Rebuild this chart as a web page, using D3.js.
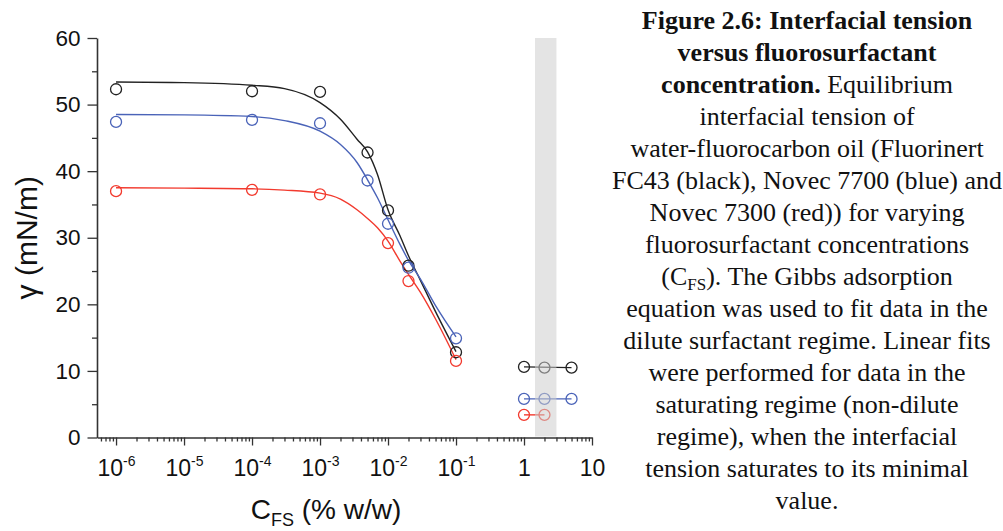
<!DOCTYPE html>
<html>
<head>
<meta charset="utf-8">
<script src="https://cdn.jsdelivr.net/npm/d3@7/dist/d3.min.js"></script>
<style>
	body { margin: 0; background: #fff; }
	svg { display: block; }
</style>
</head>
<body>
<svg id="chart"></svg>
<script>
// concentrations in % w/w
const dilute_x = [1e-6, 1e-4, 1e-3, 5e-3, 1e-2, 2e-2, 1e-1];
const red_x = [1e-6, 1e-4, 1e-3, 1e-2, 2e-2, 1e-1];
const sat_x = [1, 2, 5];
const sat_red_x = [1, 2];

// measured interfacial tension (mN/m)
const fc43 = [52.3, 52.0, 51.9, 42.8, 34.1, 25.8, 12.8];
const novec7700 = [47.4, 47.7, 47.2, 38.6, 32.1, 25.5, 14.9];
const novec7300 = [37.0, 37.2, 36.5, 29.2, 23.5, 11.5];
const fc43_sat = [10.6, 10.5, 10.5];
const novec7700_sat = [5.8, 5.8, 5.8];
const novec7300_sat = [3.4, 3.4];

// Gibbs fit curves
const fit_x = [1e-6, 1e-5, 1e-4, 3e-4, 1e-3, 2e-3, 3.5e-3, 5e-3, 7e-3, 1e-2, 1.5e-2, 2e-2, 3e-2, 5e-2, 1e-1];
const fc43_fit = [53.4, 53.3, 52.9, 52.4, 50.3, 47.8, 44.8, 42.9, 39.5, 34.2, 30.3, 27.3, 23.6, 18.9, 12.9];
const novec7700_fit = [48.5, 48.45, 48.2, 47.6, 46.0, 44.0, 41.3, 38.7, 36.0, 32.7, 29.0, 26.6, 23.8, 19.8, 15.1];
const novec7300_fit = [37.5, 37.45, 37.35, 37.15, 36.7, 35.8, 34.2, 32.9, 31.5, 29.5, 26.5, 24.5, 21.8, 17.8, 11.7];

// linear fits, saturating regime
const fc43_lin = [10.6, 10.5];
const novec7700_lin = [5.8, 5.8];
const novec7300_lin = [3.4, 3.4];

const band_x = [1.45, 3.0];

const y_ticks = [0, 10, 20, 30, 40, 50, 60];
const y_minor = [5, 15, 25, 35, 45, 55];
const x_ticks = [1e-6, 1e-5, 1e-4, 1e-3, 1e-2, 1e-1, 1, 10];
const x_labels = [["10", "-6"], ["10", "-5"], ["10", "-4"], ["10", "-3"], ["10", "-2"], ["10", "-1"], ["1", ""], ["10", ""]];

const caption = [
	[["b", "Figure 2.6: Interfacial tension"]],
	[["b", "versus fluorosurfactant"]],
	[["b", "concentration."], ["n", " Equilibrium"]],
	[["n", "interfacial tension of"]],
	[["n", "water-fluorocarbon oil (Fluorinert"]],
	[["n", "FC43 (black), Novec 7700 (blue) and"]],
	[["n", "Novec 7300 (red)) for varying"]],
	[["n", "fluorosurfactant concentrations"]],
	[["n", "(C"], ["s", "FS"], ["n", "). The Gibbs adsorption"]],
	[["n", "equation was used to fit data in the"]],
	[["n", "dilute surfactant regime. Linear fits"]],
	[["n", "were performed for data in the"]],
	[["n", "saturating regime (non-dilute"]],
	[["n", "regime), when the interfacial"]],
	[["n", "tension saturates to its minimal"]],
	[["n", "value."]]
];

const width = 1003;
const height = 531;
const plotLeft = 97, plotRight = 592, plotTop = 38, plotBottom = 437.5;

const black = "#222222";
const blue = "#4a63b8";
const red = "#f23a2e";

const svg = d3.select("#chart").attr("width", width).attr("height", height);

const x = d3.scaleLog().domain([Math.pow(10, -6.28), 10]).range([plotLeft, plotRight]);
const y = d3.scaleLinear().domain([0, 60]).range([plotBottom, plotTop]);

// minor log ticks
var x_minor = [];
for (var e = -7; e <= 0; e++) {
	for (var m = 2; m <= 9; m++) {
		var v = m * Math.pow(10, e);
		if (v >= x.domain()[0] && v <= 10) x_minor.push(v);
	}
}

function fitLine(xs, ys) {
	return d3.line()
		.x(function (d, i) { return x(xs[i]); })
		.y(function (d) { return y(d); })
		.curve(d3.curveMonotoneX)(ys);
}

function straight(xs, ys) {
	return d3.line()
		.x(function (d, i) { return x(xs[i]); })
		.y(function (d) { return y(d); })(ys);
}

const series = [
	{ color: black, px: dilute_x, py: fc43, fit: fc43_fit, sx: sat_x, sy: fc43_sat, lin: fc43_lin },
	{ color: blue, px: dilute_x, py: novec7700, fit: novec7700_fit, sx: sat_x, sy: novec7700_sat, lin: novec7700_lin },
	{ color: red, px: red_x, py: novec7300, fit: novec7300_fit, sx: sat_red_x, sy: novec7300_sat, lin: novec7300_lin }
];

// axes
var yAxis = svg.append("g")
	.attr("transform", "translate(" + plotLeft + ",0)")
	.call(d3.axisLeft(y).tickValues(y_ticks).tickSize(9.5).tickSizeOuter(0).tickPadding(7));
svg.append("g")
	.attr("transform", "translate(" + plotLeft + ",0)")
	.call(d3.axisLeft(y).tickValues(y_minor).tickSize(5).tickFormat(""))
	.select(".domain").remove();

var xAxis = svg.append("g")
	.attr("transform", "translate(0," + plotBottom + ")")
	.call(d3.axisBottom(x).tickValues(x_ticks).tickSize(8).tickSizeOuter(0).tickPadding(8).tickFormat(""));
svg.append("g")
	.attr("transform", "translate(0," + plotBottom + ")")
	.call(d3.axisBottom(x).tickValues(x_minor).tickSize(4).tickFormat(""))
	.select(".domain").remove();

svg.selectAll(".domain").attr("stroke", "#333").attr("stroke-width", 1.6);
svg.selectAll(".tick line").attr("stroke", "#333").attr("stroke-width", 1.3);

yAxis.selectAll("text")
	.attr("font-family", "Liberation Sans, Arial, sans-serif")
	.attr("font-size", 22.5)
	.attr("fill", "#111");

xAxis.selectAll(".tick").each(function (d, i) {
	var t = d3.select(this).append("text")
		.attr("y", 38)
		.attr("text-anchor", "middle")
		.attr("font-family", "Liberation Sans, Arial, sans-serif")
		.attr("font-size", 23)
		.attr("fill", "#111");
	t.append("tspan").text(x_labels[i][0]);
	if (x_labels[i][1]) {
		t.append("tspan").attr("font-size", 14).attr("dy", -10).text(x_labels[i][1]);
	}
});

// fits
series.forEach(function (s) {
	svg.append("path")
		.attr("d", fitLine(fit_x, s.fit))
		.attr("fill", "none")
		.attr("stroke", s.color)
		.attr("stroke-width", 1.4);
	svg.append("path")
		.attr("d", straight([s.sx[0], s.sx[s.sx.length - 1]], s.lin))
		.attr("fill", "none")
		.attr("stroke", s.color)
		.attr("stroke-width", 1.4);
});

// points
series.forEach(function (s) {
	svg.append("g").selectAll("circle")
		.data(s.py)
		.enter()
		.append("circle")
		.attr("cx", function (d, i) { return x(s.px[i]); })
		.attr("cy", function (d) { return y(d); })
		.attr("r", 5.5)
		.attr("fill", "none")
		.attr("stroke", s.color)
		.attr("stroke-width", 1.3);
	svg.append("g").selectAll("circle")
		.data(s.sy)
		.enter()
		.append("circle")
		.attr("cx", function (d, i) { return x(s.sx[i]); })
		.attr("cy", function (d) { return y(d); })
		.attr("r", 5.5)
		.attr("fill", "none")
		.attr("stroke", s.color)
		.attr("stroke-width", 1.3);
});

// grey band on top of the points
svg.append("rect")
	.attr("x", x(band_x[0]))
	.attr("y", y(60))
	.attr("width", x(band_x[1]) - x(band_x[0]))
	.attr("height", y(0) - y(60) - 1)
	.attr("fill", "rgb(205,205,205)")
	.attr("fill-opacity", 0.54);

// axis titles
var xt = svg.append("text")
	.attr("x", 326)
	.attr("y", 519)
	.attr("text-anchor", "middle")
	.attr("font-family", "Liberation Sans, Arial, sans-serif")
	.attr("font-size", 28)
	.attr("fill", "#111");
xt.append("tspan").text("C");
xt.append("tspan").attr("font-size", 18).attr("dy", 7).text("FS");
xt.append("tspan").attr("dy", -7).text(" (% w/w)");

svg.append("text")
	.attr("transform", "translate(37," + y(30) + ") rotate(-90)")
	.attr("text-anchor", "middle")
	.attr("font-family", "Liberation Sans, Arial, sans-serif")
	.attr("font-size", 30)
	.attr("fill", "#111")
	.text("γ (mN/m)");

// caption
var cap = svg.append("g")
	.attr("font-family", "Liberation Serif, Times New Roman, serif")
	.attr("font-size", 26)
	.attr("fill", "#111");
caption.forEach(function (line, i) {
	var t = cap.append("text")
		.attr("x", 807)
		.attr("y", 29 + 32 * i)
		.attr("text-anchor", "middle");
	line.forEach(function (seg) {
		var ts = t.append("tspan").text(seg[1]);
		if (seg[0] == "b") ts.attr("font-weight", "bold");
		if (seg[0] == "s") ts.attr("font-size", 17).attr("dy", 5);
		if (seg[0] == "n" && seg[1].charAt(0) == ")") ts.attr("dy", -5);
	});
});
</script>
</body>
</html>
